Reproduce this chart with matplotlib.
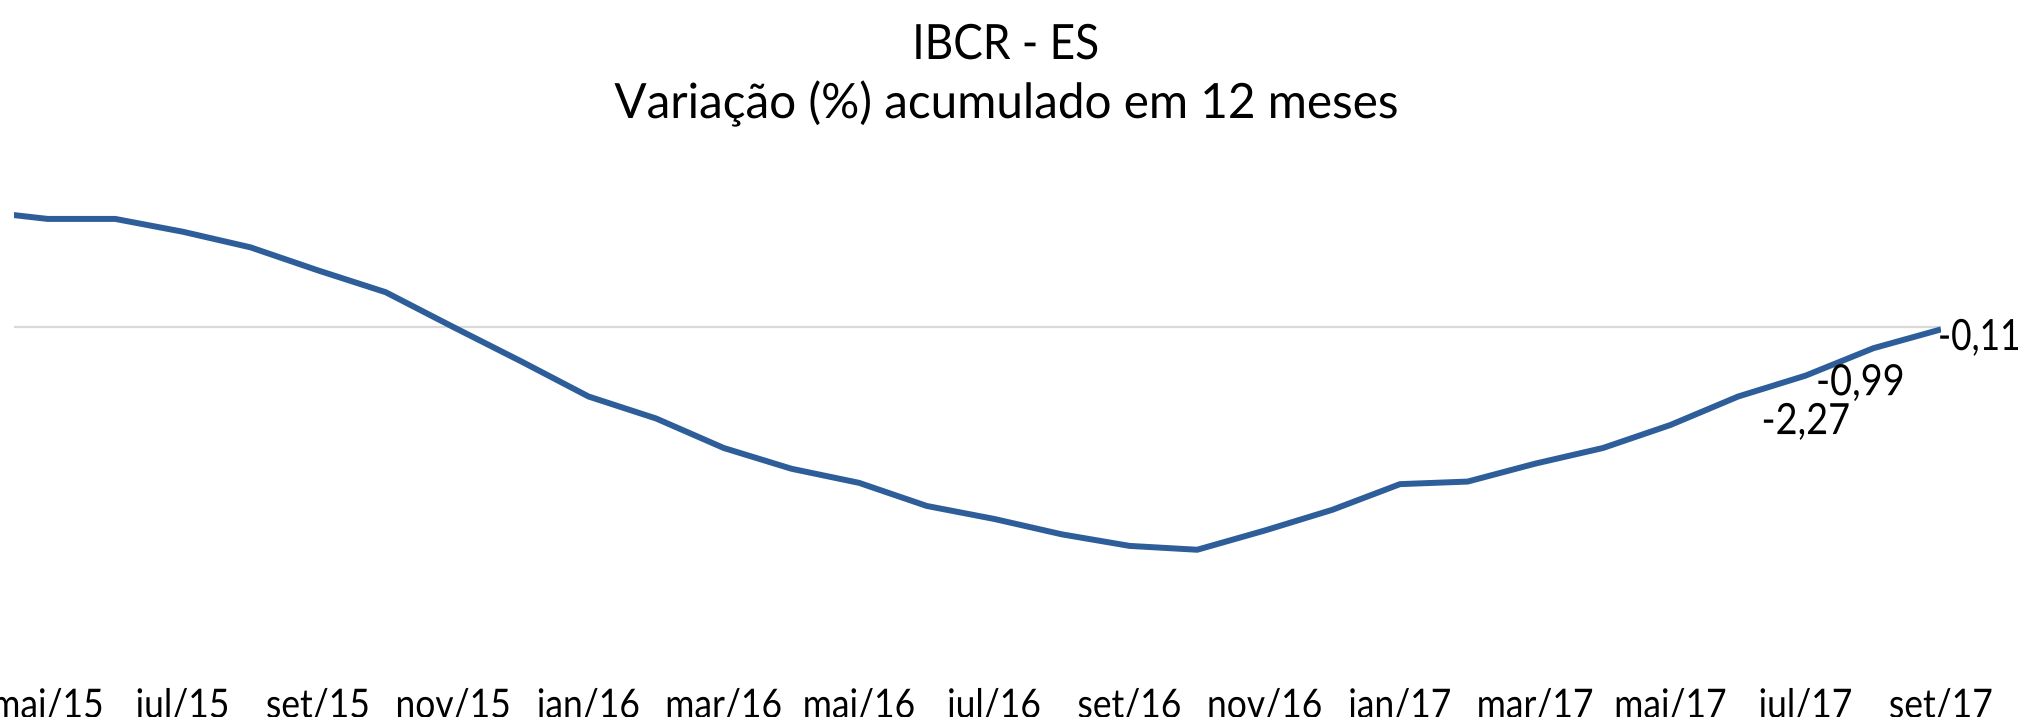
import matplotlib
matplotlib.use("Agg")
import matplotlib.pyplot as plt
from matplotlib.patheffects import AbstractPathEffect
from matplotlib.transforms import Affine2D

plt.rcParams['font.family'] = ['Lato', 'DejaVu Sans']

months = ['abr/15', 'mai/15', 'jun/15', 'jul/15', 'ago/15', 'set/15', 'out/15', 'nov/15', 'dez/15',
          'jan/16', 'fev/16', 'mar/16', 'abr/16', 'mai/16', 'jun/16', 'jul/16', 'ago/16', 'set/16',
          'out/16', 'nov/16', 'dez/16', 'jan/17', 'fev/17', 'mar/17', 'abr/17', 'mai/17', 'jun/17',
          'jul/17', 'ago/17', 'set/17']
values = [5.42, 5.06, 5.06, 4.46, 3.73, 2.65, 1.63, 0.00, -1.60,
          -3.25, -4.28, -5.66, -6.63, -7.29, -8.37, -8.98, -9.70, -10.24,
          -10.42, -9.52, -8.55, -7.35, -7.23, -6.39, -5.66, -4.58, -3.25,
          -2.27, -0.99, -0.11]
labeled = ['jul/17', 'ago/17', 'set/17']
label_text = ['-2,27', '-0,99', '-0,11']

title1 = 'IBCR - ES'
title2 = 'Variação (%) acumulado em 12 meses'


class HScale(AbstractPathEffect):
    """Narrow the glyphs horizontally (the reference font is condensed)."""
    def __init__(self, sx, anchor='center'):
        super().__init__()
        self.sx = sx
        self.anchor = anchor

    def draw_path(self, renderer, gc, tpath, affine, rgbFace=None):
        v = affine.transform(tpath.vertices)
        if len(v):
            xmin, xmax = v[:, 0].min(), v[:, 0].max()
            x0 = {'center': 0.5 * (xmin + xmax), 'left': xmin, 'right': xmax}[self.anchor]
            affine = affine + Affine2D().translate(-x0, 0).scale(self.sx, 1).translate(x0, 0)
        renderer.draw_path(gc, tpath, affine, rgbFace)


W, H = 2018, 717
fig = plt.figure(figsize=(W / 100, H / 100), dpi=100)
ax = fig.add_axes([13.8 / W, 1 - 669 / H, (1941 - 13.8) / W, 523.6 / H])

pos = [i - 1 for i in range(len(months))]  # mai/15 at 0
ax.plot(pos, values, color='#2E5E99', lw=4.3, solid_capstyle='butt', solid_joinstyle='miter', zorder=3)
ax.axhline(0, color='#D9D9D9', lw=1.6, zorder=1)

ax.set_xlim(-0.5, 28)
ax.set_ylim(-16, 8.5)
for s in ax.spines.values():
    s.set_visible(False)
ax.set_yticks([])
tick_pos = [p for p in pos if p >= 0 and p % 2 == 0]
ax.set_xticks(tick_pos)
ax.set_xticklabels([months[p + 1] for p in tick_pos], fontsize=29, va='baseline')
ax.tick_params(axis='x', length=0, pad=35)
for lab in ax.get_xticklabels():
    lab.set_path_effects([HScale(0.88)])

offsets = {'jul/17': (0, -58.5, 'center', 0.88),
           'ago/17': (-13, -47, 'center', 0.88),
           'set/17': (-3, -20.6, 'left', 0.82)}
for m, t in zip(labeled, label_text):
    i = months.index(m)
    dx, dy, ha, sx = offsets[m]
    a = ax.annotate(t, (pos[i], values[i]), xytext=(dx, dy), textcoords='offset pixels',
                    ha=ha, va='baseline', fontsize=31, annotation_clip=False, zorder=4)
    a.set_path_effects([HScale(sx, 'left' if ha == 'left' else 'center')])

t1 = fig.text(1006 / W, 1 - 59 / H, title1, ha='center', va='baseline', fontsize=35)
t1.set_path_effects([HScale(0.91)])
t2 = fig.text(1006 / W, 1 - 118 / H, title2, ha='center', va='baseline', fontsize=35)
t2.set_path_effects([HScale(0.98)])

fig.savefig('out.png', dpi=100)
